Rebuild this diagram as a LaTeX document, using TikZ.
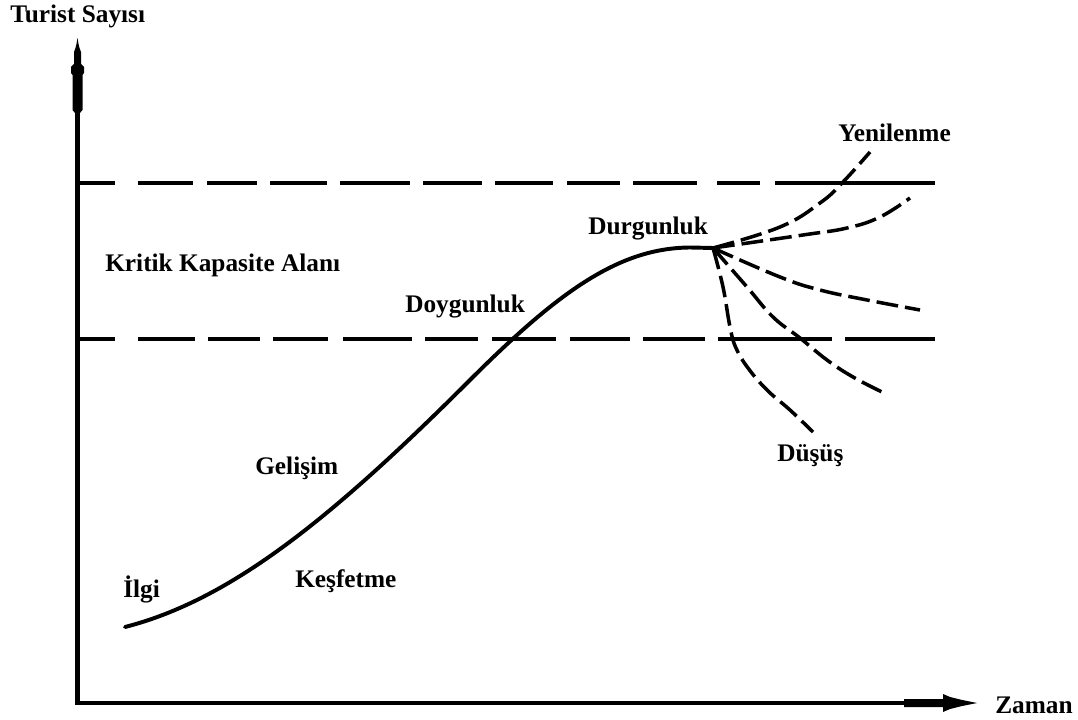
\documentclass[tikz,border=0pt]{standalone}
\usepackage{fontspec}
\setmainfont{Liberation Serif}[BoldFont={Liberation Serif Bold}]
\begin{document}
\begin{tikzpicture}[x=0.025cm,y=-0.025cm,
  lbl/.style={font=\rmfamily\bfseries\fontsize{18}{20}\selectfont, inner sep=0pt, anchor=base west},
  axisline/.style={line width=3.5pt, miter limit=10},
  hline/.style={line width=2.9pt},
  maincurve/.style={line width=2.8pt, line cap=round},
  branch/.style={line width=2.5pt, dash pattern=on 15.5pt off 5pt}]
\useasboundingbox (0,0) rectangle (1078,720);
% key points
\coordinate (O) at (77.5,703);
\coordinate (ytop) at (77.5,110);
\coordinate (xend) at (906,703);
\coordinate (S) at (125,627);
\coordinate (M) at (470,380);
\coordinate (B) at (713,248);
% axes
\draw[axisline] (ytop) -- (O) -- (xend);
\fill (77.5,38) -- (78.5,44) -- (79.5,48) -- (81,52) -- (81,64) -- (84,67) -- (84,73) -- (82.5,75) -- (82.5,110) -- (80,113)
  -- (75,113) -- (72.5,110) -- (72.5,75) -- (71,73) -- (71,67) -- (74,64) -- (74,52) -- (75.5,48) -- (76.5,44) -- cycle;
\fill (904,699) -- (943,699) -- (943,694) -- (950,697) -- (960,699.5) -- (968,701.2) -- (977,703) -- (968,704.8)
  -- (960,706.5) -- (950,709) -- (943,712) -- (943,707) -- (904,707) -- cycle;
% critical capacity lines (hand-drawn dashes)
\foreach \a/\b in {78/115,138/193,207/257,270/327,340/410,423/482,495/553,567/620,633/697,717/760,775/935}
  \draw[hline] (\a,183) -- (\b,183);
\foreach \a/\b in {78/115,138/195,208/260,273/328,343/412,425/478,492/556,570/630,643/705,718/832,845/935}
  \draw[hline] (\a,339) -- (\b,339);
% main curve
\draw[maincurve] (S) .. controls (230,600) and (330,520) .. (M)
  .. controls (560,290) and (620,248) .. (690,247.5) -- (B);
% branches
\draw[branch] plot[smooth, tension=0.7] coordinates {(B) (780,227) (820,203) (843,182) (870,152)};
\draw[branch] plot[smooth, tension=0.7] coordinates {(B) (803,235) (847,228) (880,217) (910,198)};
\draw[branch] plot[smooth, tension=0.7] coordinates {(B) (780,277) (820,290) (867,300) (920,310)};
\draw[branch] plot[smooth, tension=0.7] coordinates {(B) (747,287) (773,317) (800,338) (827,360) (853,377) (882,392)};
\draw[branch] plot[smooth, tension=0.7] coordinates {(B) (723,287) (730,327) (736,348) (748,368) (767,390) (790,410) (813,432)};
% labels
\node[lbl] (ty) at (10,23) {Turist Sayısı};
\node[lbl] (kk) at (105,272) {Kritik Kapasite Alanı};
\node[lbl] (dy) at (405,313) {Doygunluk};
\node[lbl] (dr) at (588,235) {Durgunluk};
\node[lbl] (yn) at (838,142) {Yenilenme};
\node[lbl] (ds) at (777,462) {Düşüş};
\node[lbl] (gl) at (255,475) {Gelişim};
\node[lbl] (ks) at (295,587) {Keşfetme};
\node[lbl] (il) at (123,597) {İlgi};
\node[lbl] (zm) at (995,713) {Zaman};
\end{tikzpicture}
\end{document}
